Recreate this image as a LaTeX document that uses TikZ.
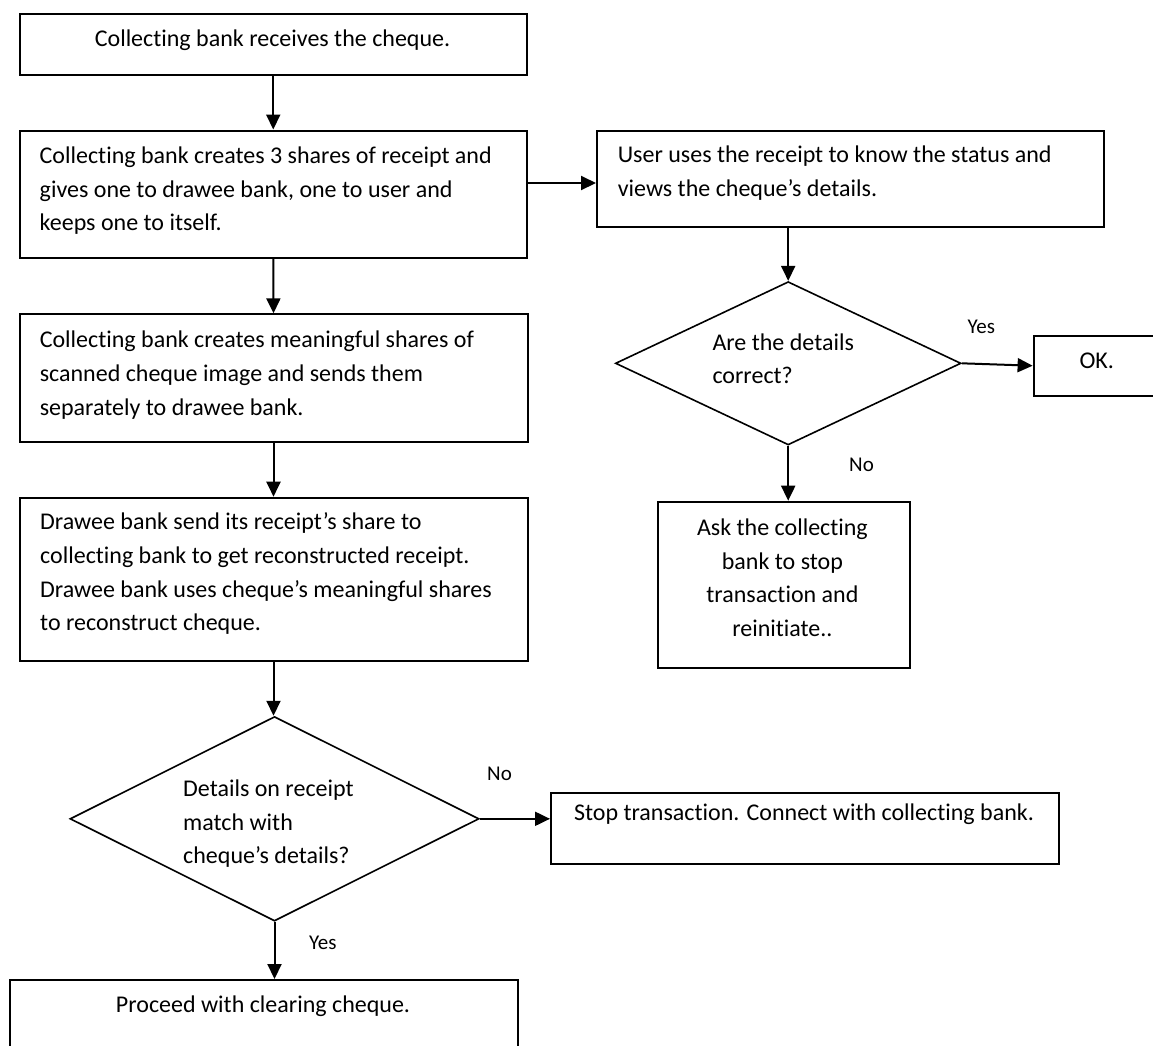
\documentclass[tikz,border=0pt]{standalone}
\usepackage{fontspec}
\setmainfont[Ligatures=NoCommon]{Carlito}
\usetikzlibrary{arrows.meta,shapes.geometric}
\newcommand\topstr{\rule{0pt}{20pt}}
\begin{document}
\begin{tikzpicture}[x=1pt,y=-1pt,
  box/.style={draw,line width=2pt,inner sep=0pt,anchor=north west},
  dec/.style={draw,diamond,line width=1.6pt,inner sep=0pt},
  txt/.style={inner sep=0pt,font=\fontsize{24}{33.8}\selectfont,align=left,anchor=north west},
  ctxt/.style={inner sep=0pt,font=\fontsize{24}{33.8}\selectfont,anchor=base},
  lbl/.style={inner sep=0pt,font=\fontsize{21}{25}\selectfont,anchor=base west},
  arr/.style={line width=2pt,-{Triangle[length=15pt,width=14pt]}}]
\fill[white] (0,0) rectangle (1153,1045);
\useasboundingbox (0,0) rectangle (1153,1045);

% boxes
\node[box,minimum width=507.5pt,minimum height=61.3pt] (b1) at (18.5,12.7) {};
\node[box,minimum width=507.5pt,minimum height=127.5pt] (b2) at (18.5,129.5) {};
\node[box,minimum width=507.3pt,minimum height=96pt] (b3) at (596,129.5) {};
\node[box,minimum width=508pt,minimum height=127.7pt] (b4) at (18.5,313.3) {};
\node[box,minimum width=508pt,minimum height=163.3pt] (b5) at (18.5,496.7) {};
\node[box,minimum width=508pt,minimum height=71pt] (b7) at (550,791.5) {};
\node[box,minimum width=507.7pt,minimum height=80pt] (b8) at (9.3,979) {};
\node[box,minimum width=140pt,minimum height=60pt] (ok) at (1032.6,334.7) {};
\node[box,minimum width=252.2pt,minimum height=166pt] (ask) at (656.5,500.7) {};

% decisions
\node[dec,minimum width=409pt,minimum height=204.5pt] (d1) at (274.5,818.8) {};
\node[dec,minimum width=345.6pt,minimum height=163.3pt] (d2) at (788.2,363.3) {};

% texts
\node[ctxt] (t1) at (272.5,46) {Collecting bank receives the cheque.};
\node[txt] (t2) at (39.5,143) {\topstr Collecting bank creates 3 shares of receipt and\\gives one to drawee bank, one to user and\\keeps one to itself.};
\node[txt] (t3) at (617.6,142.5) {\topstr User uses the receipt to know the status and\\views the cheque’s details.};
\node[txt] (t4) at (39.6,327.3) {\topstr Collecting bank creates meaningful shares of\\scanned cheque image and sends them\\separately to drawee bank.};
\node[txt] (t5) at (40,509.3) {\topstr Drawee bank send its receipt’s share to\\collecting bank to get reconstructed receipt.\\Drawee bank uses cheque’s meaningful shares\\to reconstruct cheque.};
\node[txt] (t6) at (183,776) {\topstr Details on receipt\\match with\\cheque’s details?};
\node[ctxt] (t7) at (804,820) {Stop transaction. Connect with collecting bank.};
\node[ctxt] (t8) at (263,1012.5) {Proceed with clearing cheque.};
\node[txt,font=\fontsize{24}{32.6}\selectfont] (t9) at (712.3,330.7) {\topstr Are the details\\correct?};
\node[ctxt] (t10) at (1096.7,368.3) {OK.};
\node[txt,align=center,anchor=north] (t11) at (782.4,515) {\topstr Ask the collecting\\bank to stop\\transaction and\\reinitiate..};

% labels
\node[lbl] (l1) at (487,780.7) {No};
\node[lbl] (l2) at (309,949.3) {Yes};
\node[lbl] (l3) at (967.5,333) {Yes};
\node[lbl] (l4) at (849,471.7) {No};

% connectors
\draw[arr] (b1.south) -- (b2.north);
\draw[arr] (b2.south) -- (b4.north);
\draw[arr] (b4.south) -- (b5.north);
\draw[arr] (b5.south) -- (b5.south |- d1.north);
\draw[arr] (d1.south) -- (d1.south |- b8.north);
\draw[arr] (b2.east |- 0,183) -- (b3.west |- 0,183);
\draw[arr] (d2.north |- b3.south) -- (d2.north);
\draw[arr] (d2.east) -- (ok.west);
\draw[arr] (d2.south) -- (d2.south |- ask.north);
\draw[arr] (d1.east) -- (b7.west |- d1.east);
\end{tikzpicture}
\end{document}
